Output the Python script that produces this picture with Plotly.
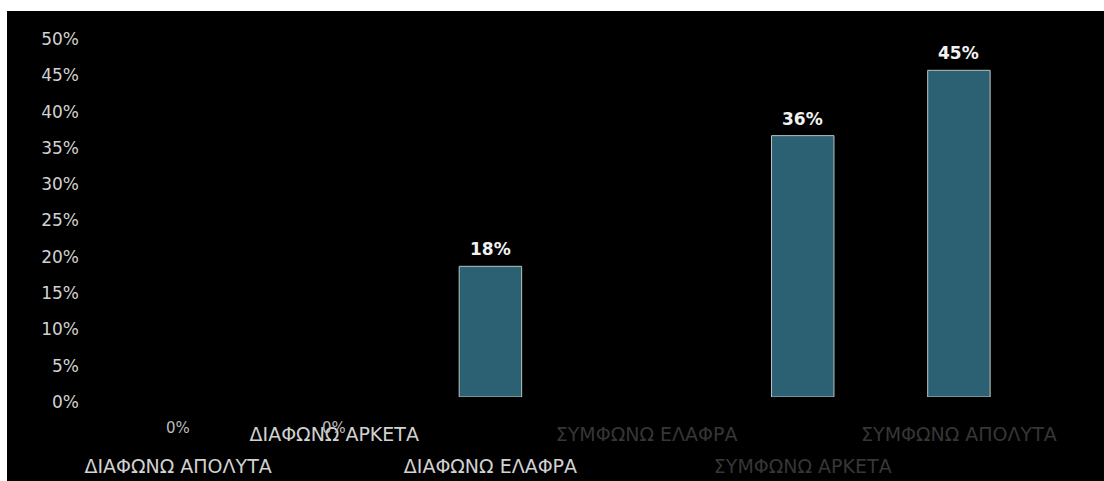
import plotly.graph_objects as go

categories = ["ΔΙΑΦΩΝΩ ΑΠΟΛΥΤΑ", "ΔΙΑΦΩΝΩ ΑΡΚΕΤΑ", "ΔΙΑΦΩΝΩ ΕΛΑΦΡΑ",
              "ΣΥΜΦΩΝΩ ΕΛΑΦΡΑ", "ΣΥΜΦΩΝΩ ΑΡΚΕΤΑ", "ΣΥΜΦΩΝΩ ΑΠΟΛΥΤΑ"]
values = [0, 0, 18, None, 36, 45]
y_ticks = [0, 5, 10, 15, 20, 25, 30, 35, 40, 45, 50]
y_tick_labels = ["0%", "5%", "10%", "15%", "20%", "25%", "30%", "35%", "40%", "45%", "50%"]

W, H = 1104, 481
ML, MR, MT, MB = 100, 67, 34, 84
PW, PH = W - ML - MR, H - MT - MB

def styled(label):
    col = "#363636" if label.startswith("ΣΥΜΦΩΝΩ") else "#d2d2d2"
    return f"<span style='color:{col}'>{label}</span>"

fig = go.Figure()
fig.add_trace(go.Bar(
    x=categories, y=values, width=0.4,
    marker=dict(color="#2c6174",
                line=dict(color="#b9c4bd",
                          width=[1 if (v or 0) > 0 else 0 for v in values])),
    hoverinfo="skip", showlegend=False,
))

row1 = categories[1::2]
row2_idx = list(range(len(categories)))[0::2]
row2 = categories[0::2]

# invisible helper trace so the second (staggered) label axis is drawn
fig.add_trace(go.Scatter(x=row2_idx, y=[0] * len(row2_idx), xaxis="x2", yaxis="y",
                         mode="markers", marker=dict(opacity=0, size=1),
                         hoverinfo="skip", showlegend=False))

# value labels
for c, v in zip(categories, values):
    if v is None:
        continue
    if v == 0:
        fig.add_annotation(x=c, y=v, text=f"{v}%", showarrow=False,
                           yanchor="top", yshift=-20,
                           font=dict(family="DejaVu Sans", size=15, color="#bdbdbd"))
    else:
        fig.add_annotation(x=c, y=v, text=f"{v}%", showarrow=False,
                           yanchor="bottom", yshift=5,
                           font=dict(family="DejaVu Sans", size=17, color="#f2f2f2",
                                     weight="bold"))

fig.update_layout(
    width=W, height=H,
    margin=dict(l=ML, r=MR, t=MT, b=MB, autoexpand=False),
    paper_bgcolor="#000000", plot_bgcolor="#000000",
    bargap=0.6,
    yaxis=dict(range=[0, 50], tickmode="array", tickvals=y_ticks, ticktext=y_tick_labels,
               showgrid=False, zeroline=False, showline=False, ticks="",
               ticklabelstandoff=20, ticklabelshift=5, automargin=False,
               tickfont=dict(family="DejaVu Sans", size=17, color="#d2d2d2")),
    xaxis=dict(type="category", categoryorder="array", categoryarray=categories,
               range=[-0.5, len(categories) - 0.5],
               tickmode="array", tickvals=row1, ticktext=[styled(t) for t in row1],
               showgrid=False, zeroline=False, showline=False, ticks="",
               ticklabelstandoff=24, tickangle=0, automargin=False,
               tickfont=dict(family="DejaVu Sans", size=19, color="#d2d2d2")),
    xaxis2=dict(overlaying="x", anchor="y", side="bottom", type="linear",
                range=[-0.5, len(categories) - 0.5],
                tickmode="array", tickvals=row2_idx, ticktext=[styled(t) for t in row2],
                showgrid=False, zeroline=False, showline=False, ticks="",
                ticklabelstandoff=56, tickangle=0, automargin=False,
                tickfont=dict(family="DejaVu Sans", size=19, color="#d2d2d2")),
)

# white frame strips (top and left)
fig.add_shape(type="rect", xref="paper", yref="paper",
              x0=(0 - ML) / PW, x1=(W - ML) / PW,
              y0=(H - MB - 11) / PH, y1=(H - MB) / PH,
              fillcolor="#ffffff", line=dict(width=0), layer="above")
fig.add_shape(type="rect", xref="paper", yref="paper",
              x0=(0 - ML) / PW, x1=(7 - ML) / PW,
              y0=-MB / PH, y1=(H - MB) / PH,
              fillcolor="#ffffff", line=dict(width=0), layer="above")

fig.write_html("out.html")
